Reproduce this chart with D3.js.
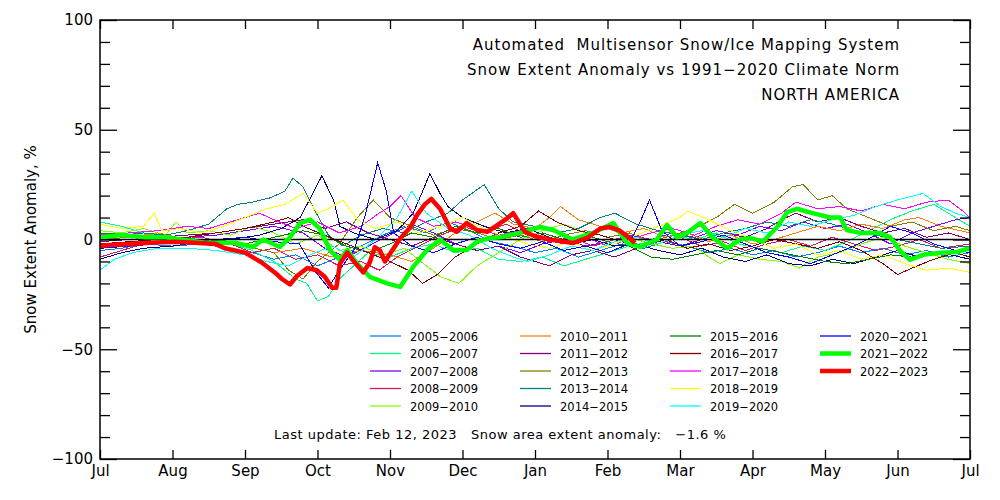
<!DOCTYPE html>
<html>
<head>
<meta charset="utf-8">
<script src="https://cdn.jsdelivr.net/npm/d3@7"></script>
<style>
  body { margin: 0; background: #fff; }
  text { font-family: "DejaVu Sans", sans-serif; fill: #000; }
</style>
</head>
<body>
<div class="snowchart"></div>
<script>
// month labels along x (one per month boundary, Jul..Jul)
const monthLabels = ["Jul","Aug","Sep","Oct","Nov","Dec","Jan","Feb","Mar","Apr","May","Jun","Jul"];
const yLabels = [100, 50, 0, -50, -100];

// seasons shown in the legend
const seasons = ["2005\u22122006","2006\u22122007","2007\u22122008","2008\u22122009","2009\u22122010",
  "2010\u22122011","2011\u22122012","2012\u22122013","2013\u22122014","2014\u22122015",
  "2015\u22122016","2016\u22122017","2017\u22122018","2018\u22122019","2019\u22122020",
  "2020\u22122021","2021\u22122022","2022\u22122023"];
const seasonColors = ["#0080ff","#00ff80","#8000ff","#dc1464","#80ff00",
  "#ff8000","#800080","#808000","#008080","#000080",
  "#008000","#800000","#ff00ff","#ffff00","#00ffff",
  "#0000ff","#00ff00","#ff0000"];

// [months since Jul 1, anomaly %]
const s2005 = [[0,-5],[0.3,-4],[0.6,-2],[1,-3],[1.4,-2],[1.8,-4],[2.1,-6],[2.4,-9],[2.7,-7],[3,-12],[3.3,-8],[3.6,-3],[3.9,2],[4.2,6],[4.5,3],[4.8,8],[5.1,4],[5.4,-1],[5.7,-3],[6,-6],[6.3,-4],[6.6,-8],[6.9,-5],[7.2,-2],[7.5,-4],[7.8,-1],[8.1,-3],[8.4,-6],[8.7,-4],[9,-7],[9.3,-5],[9.6,-8],[9.9,-6],[10.2,-3],[10.5,-6],[10.8,-4],[11.1,-7],[11.4,-5],[11.7,-8],[12,-6]];
const s2006 = [[0,8],[0.3,6],[0.6,3],[1,1],[1.4,0],[1.8,-2],[2.1,-5],[2.4,-10],[2.7,-18],[2.85,-20],[3.0,-28],[3.15,-26],[3.3,-18],[3.5,-12],[3.7,-6],[4,-8],[4.3,-4],[4.6,-2],[4.9,-6],[5.2,-4],[5.5,-9],[5.8,-10],[6.1,-8],[6.4,-12],[6.7,-9],[7,-6],[7.3,-3],[7.6,-1],[7.9,2],[8.2,0],[8.5,3],[8.8,-2],[9.1,-4],[9.4,-6],[9.7,-3],[10,-5],[10.3,-1],[10.6,4],[10.9,9],[11.2,13],[11.5,16],[11.8,10],[12,6]];
const s2007 = [[0,-2],[0.4,-1],[0.8,0],[1.2,1],[1.6,2],[2,4],[2.4,6],[2.8,3],[3.1,-4],[3.4,-8],[3.7,-3],[4,2],[4.3,7],[4.6,3],[4.9,-2],[5.2,-5],[5.5,-3],[5.8,-6],[6.1,-2],[6.4,0],[6.7,-3],[7,-1],[7.3,2],[7.6,0],[7.9,3],[8.2,1],[8.5,4],[8.8,2],[9.1,6],[9.4,4],[9.7,8],[10,5],[10.3,7],[10.6,3],[10.9,-2],[11.2,3],[11.5,6],[11.8,9],[12,10]];
const s2008 = [[0,-8],[0.3,-5],[0.6,-2],[1,0],[1.4,1],[1.8,-2],[2.1,-6],[2.4,-4],[2.7,-9],[3,-7],[3.3,-12],[3.6,-10],[3.85,-14],[4.1,-8],[4.4,-3],[4.7,2],[5,6],[5.3,3],[5.6,7],[5.9,2],[6.2,-1],[6.5,1],[6.8,-3],[7.1,0],[7.4,2],[7.7,-2],[8,1],[8.3,-3],[8.6,-1],[8.9,-5],[9.2,-2],[9.5,0],[9.8,-3],[10.1,1],[10.4,-2],[10.7,-5],[11,-3],[11.3,0],[11.6,-4],[12,-2]];
const s2009 = [[0,4],[0.3,3],[0.6,5],[0.9,2],[1.05,8],[1.2,3],[1.5,4],[1.8,2],[2.1,6],[2.4,3],[2.7,-2],[3,2],[3.3,-5],[3.6,-3],[3.9,-7],[4.2,-4],[4.5,-12],[4.7,-17],[4.95,-20],[5.2,-12],[5.5,-6],[5.8,0],[6.1,4],[6.4,7],[6.7,3],[7,5],[7.3,1],[7.6,-2],[7.9,-4],[8.2,-3],[8.4,-8],[8.55,-11],[8.8,-7],[9.1,-9],[9.4,-10],[9.65,-13],[9.9,-8],[10.2,-6],[10.5,-2],[10.8,1],[11.1,-3],[11.4,-6],[11.7,-9],[12,-11]];
const s2010 = [[0,2],[0.4,1],[0.8,3],[1.2,0],[1.6,-1],[2,-3],[2.4,-6],[2.8,-4],[3.2,-8],[3.6,-5],[4,-7],[4.3,-10],[4.6,-4],[4.9,3],[5.2,8],[5.45,12],[5.7,7],[6,5],[6.2,10],[6.35,15],[6.6,9],[6.9,6],[7.2,3],[7.5,5],[7.8,1],[8.1,3],[8.4,-1],[8.7,2],[9,-2],[9.3,0],[9.6,3],[9.9,6],[10.2,4],[10.5,7],[10.8,5],[11.1,9],[11.3,10],[11.6,6],[12,3]];
const s2011 = [[0,-1],[0.4,0],[0.8,1],[1.2,2],[1.6,3],[2,5],[2.4,7],[2.8,9],[3.1,5],[3.4,8],[3.7,3],[4,0],[4.3,-3],[4.6,1],[4.9,-2],[5.2,-5],[5.5,-3],[5.8,-8],[6,-10],[6.2,-12],[6.5,-7],[6.8,-5],[7.1,-8],[7.4,-4],[7.7,-1],[8,-3],[8.3,0],[8.6,3],[8.9,1],[9.2,5],[9.4,9],[9.6,12],[9.9,8],[10.2,10],[10.5,6],[10.8,3],[11.1,5],[11.4,1],[11.7,3],[12,0]];
const s2012 = [[0,0],[0.4,1],[0.8,2],[1.2,0],[1.6,-1],[2,-3],[2.4,-6],[2.6,-14],[2.8,-18],[3,-10],[3.3,-2],[3.55,10],[3.77,18],[4,10],[4.3,6],[4.6,2],[4.9,5],[5.2,3],[5.5,0],[5.8,2],[6.1,-1],[6.4,2],[6.7,4],[7,1],[7.3,3],[7.6,-1],[7.9,2],[8.2,5],[8.5,10],[8.75,16],[9,12],[9.3,17],[9.55,24],[9.7,25],[9.9,18],[10.1,20],[10.3,14],[10.6,10],[10.9,6],[11.2,8],[11.5,4],[11.8,6],[12,4]];
const s2013 = [[0,3],[0.3,2],[0.6,3],[0.9,2],[1.2,4],[1.5,7],[1.75,14],[1.9,16],[2.1,17],[2.35,19],[2.55,22],[2.66,28],[2.8,24],[2.95,14],[3.15,2],[3.35,-3],[3.6,2],[3.9,5],[4.2,3],[4.5,8],[4.8,12],[5.0,18],[5.3,25],[5.5,14],[5.7,8],[6,6],[6.3,3],[6.6,5],[6.9,10],[7.1,12],[7.4,7],[7.7,4],[8,2],[8.3,0],[8.6,3],[8.9,5],[9.2,8],[9.5,6],[9.8,9],[10.1,7],[10.4,4],[10.7,2],[11,0],[11.3,-2],[11.6,-4],[12,-3]];
const s2014 = [[0,-9],[0.3,-6],[0.6,-4],[1,-3],[1.4,-1],[1.8,0],[2.2,2],[2.5,5],[2.76,10],[2.92,20],[3.06,29],[3.22,18],[3.31,6],[3.5,3],[3.8,0],[4.1,4],[4.32,12],[4.45,22],[4.55,30],[4.69,21],[4.8,15],[5,10],[5.3,6],[5.6,3],[5.9,5],[6.2,1],[6.5,-2],[6.8,0],[7.1,-3],[7.4,-2],[7.7,-5],[8,-7],[8.3,-4],[8.6,-8],[8.9,-10],[9.2,-7],[9.5,-11],[9.8,-12],[10.1,-9],[10.4,-11],[10.7,-8],[11,-5],[11.3,-8],[11.6,-6],[12,-9]];
const s2015 = [[0,3],[0.4,2],[0.8,1],[1.2,-1],[1.6,0],[2,-2],[2.4,1],[2.8,4],[3.1,2],[3.4,-3],[3.7,-6],[4,-2],[4.3,3],[4.6,1],[4.9,6],[5.2,3],[5.5,5],[5.8,1],[6.1,3],[6.4,0],[6.7,2],[7,-1],[7.3,-3],[7.6,-8],[7.9,-9],[8.2,-7],[8.5,-5],[8.8,-7],[9.1,-4],[9.4,-6],[9.7,-8],[10,-10],[10.3,-11],[10.6,-9],[10.9,-7],[11.2,-8],[11.5,-6],[11.8,-5],[12,-4]];
const s2016 = [[0,-2],[0.4,-1],[0.8,0],[1.2,1],[1.6,3],[2,5],[2.4,8],[2.6,10],[2.8,6],[3.1,2],[3.4,-2],[3.7,-6],[4,-10],[4.25,-14],[4.45,-20],[4.65,-16],[4.9,-8],[5.2,-2],[5.5,3],[5.8,6],[6.05,13],[6.3,8],[6.6,4],[6.9,2],[7.2,-1],[7.5,-3],[7.8,0],[8.1,-4],[8.4,-2],[8.7,-5],[9,-3],[9.3,0],[9.6,-2],[9.9,-4],[10.2,-1],[10.5,-5],[10.8,-11],[11,-16],[11.2,-13],[11.5,-9],[11.8,-6],[12,-8]];
const s2017 = [[0,2],[0.4,3],[0.8,4],[1.2,6],[1.5,5],[1.8,8],[2.0,10],[2.2,12],[2.4,9],[2.7,5],[3,8],[3.3,3],[3.6,6],[3.85,12],[4.0,15],[4.15,20],[4.35,10],[4.6,6],[4.9,8],[5.2,5],[5.5,2],[5.8,4],[6.1,0],[6.4,-2],[6.7,1],[7,-3],[7.3,0],[7.6,3],[7.9,5],[8.2,2],[8.5,6],[8.8,9],[9.1,7],[9.4,12],[9.6,17],[9.9,14],[10.2,15],[10.5,13],[10.8,16],[11.1,14],[11.4,17],[11.7,18],[11.9,13],[12,10]];
const s2018 = [[0,7],[0.3,5],[0.6,6],[0.75,12],[0.85,4],[1.1,5],[1.4,3],[1.7,6],[2.0,10],[2.3,14],[2.55,16],[2.8,21],[3.0,12],[3.15,14],[3.35,18],[3.55,9],[3.8,5],[4.1,8],[4.4,3],[4.7,6],[5.0,10],[5.3,5],[5.6,1],[5.9,-2],[6.2,-4],[6.5,-1],[6.8,-5],[7.1,-2],[7.4,2],[7.7,6],[8.0,10],[8.1,13],[8.4,9],[8.7,4],[9.0,0],[9.3,-4],[9.6,-2],[9.9,-7],[10.2,-5],[10.5,-9],[10.8,-7],[11.1,-11],[11.4,-14],[11.7,-13],[12,-15]];
const s2019 = [[0,-14],[0.2,-9],[0.45,-6],[0.8,-4],[1.2,-4],[1.6,-5],[2.0,-7],[2.3,-10],[2.6,-12],[2.9,-7],[3.2,-3],[3.5,-8],[3.8,0],[4.1,10],[4.3,22],[4.5,12],[4.8,5],[5.1,2],[5.4,-4],[5.7,-8],[5.9,-10],[6.2,-7],[6.5,-3],[6.8,-5],[7.1,-1],[7.4,1],[7.7,-2],[8,2],[8.3,4],[8.6,1],[8.9,5],[9.2,3],[9.5,8],[9.8,6],[10.1,9],[10.4,11],[10.7,15],[11.0,18],[11.35,21],[11.6,15],[11.8,12],[12,10]];
const s2020 = [[0,-4],[0.4,-3],[0.8,-2],[1.2,-1],[1.6,0],[2,1],[2.4,-1],[2.75,-2],[2.98,-15],[3.15,-22],[3.3,-14],[3.5,-5],[3.65,10],[3.83,35],[3.95,22],[4.05,3],[4.3,-3],[4.6,-6],[4.9,-2],[5.2,1],[5.5,-2],[5.8,-4],[6.1,-1],[6.4,-5],[6.7,-3],[7.0,-6],[7.3,-2],[7.45,8],[7.58,18],[7.75,4],[8.0,-3],[8.3,-1],[8.6,2],[8.9,-2],[9.2,-6],[9.5,-8],[9.8,-11],[10.1,-7],[10.4,-3],[10.7,2],[10.9,6],[11.2,3],[11.5,-2],[11.8,-5],[12,-6]];
const s2021 = [[0,1],[0.3,2],[0.62,1],[0.9,1],[1.45,-1.5],[1.86,-1.5],[2.11,-3.4],[2.25,0],[2.48,-3.4],[2.62,1],[2.76,7.5],[2.9,9],[3.03,5],[3.17,-4.8],[3.31,-9.3],[3.41,-4.8],[3.54,-10.7],[3.72,-17],[3.96,-20],[4.14,-21.6],[4.32,-12.5],[4.51,-4.8],[4.69,0],[4.87,-4.8],[5.06,-4.8],[5.2,-1],[5.38,0.7],[5.52,1],[5.79,3],[6.07,5.7],[6.25,4.3],[6.52,0],[6.8,3],[7.08,7.5],[7.27,-1.6],[7.45,-3.4],[7.68,0],[7.82,6.6],[7.96,1],[8.1,3],[8.28,7.5],[8.46,0.7],[8.65,-4],[8.83,0],[8.97,0.7],[9.14,-1],[9.34,5.7],[9.48,12.5],[9.61,14],[9.83,12],[10.07,10],[10.21,10],[10.3,4.3],[10.48,3],[10.76,3],[10.9,1],[11.03,-4.8],[11.17,-9.3],[11.35,-7],[11.59,-6],[11.82,-5.7],[12,-4]];
const s2022 = [[0,-3],[0.14,-2.5],[0.41,-2],[0.69,-1.5],[1.03,-1],[1.31,-1.5],[1.59,-2],[1.72,-4],[2.0,-6],[2.23,-10.5],[2.41,-15],[2.51,-18],[2.62,-20.5],[2.72,-16.5],[2.86,-13],[2.99,-14],[3.1,-17],[3.2,-22],[3.26,-22],[3.31,-11],[3.41,-6],[3.49,-9.5],[3.63,-15],[3.72,-10.5],[3.79,-3.5],[3.86,-5],[3.93,-10],[4.03,-5],[4.14,0.5],[4.28,5.5],[4.37,11],[4.48,16],[4.57,18.5],[4.69,14],[4.83,5],[4.92,3.5],[5.06,7.5],[5.2,4.3],[5.34,3.5],[5.48,6.6],[5.59,9],[5.7,12],[5.86,3.5],[6.0,1.5],[6.21,0],[6.52,-1.6],[6.72,0.7],[6.9,5],[7.03,5.7],[7.17,4],[7.31,0.5],[7.38,-1.6]];

const seriesData = [s2005,s2006,s2007,s2008,s2009,s2010,s2011,s2012,s2013,s2014,
  s2015,s2016,s2017,s2018,s2019,s2020,s2021,s2022];

const titleLines = ["Automated  Multisensor Snow/Ice Mapping System",
  "Snow Extent Anomaly vs 1991\u22122020 Climate Norm", "NORTH AMERICA"];
const footer = "Last update: Feb 12, 2023   Snow area extent anomaly:   \u22121.6 %";

// layout
const W = 1000, H = 500;
const pLeft = 100, pRight = 970, pTop = 20, pBottom = 459;

const svg = d3.select(".snowchart").append("svg")
  .attr("width", W).attr("height", H)
  .style("background", "#fff");

const x = d3.scaleLinear().domain([0, 12]).range([pLeft, pRight]);
const y = d3.scaleLinear().domain([-100, 100]).range([pBottom, pTop]);

svg.append("defs").append("clipPath").attr("id", "plotclip")
  .append("rect").attr("x", pLeft).attr("y", pTop)
  .attr("width", pRight - pLeft).attr("height", pBottom - pTop);

const line = d3.line().x(d => x(d[0])).y(d => y(d[1]));

const plot = svg.append("g").attr("clip-path", "url(#plotclip)");

// thin seasons first
plot.selectAll(".thin").data(seriesData.slice(0, 16)).enter()
  .append("path").attr("class", "thin")
  .attr("fill", "none")
  .attr("stroke", (d, i) => seasonColors[i])
  .attr("stroke-width", 1)
  .attr("shape-rendering", "crispEdges")
  .attr("d", line);

// zero line
plot.append("line")
  .attr("x1", pLeft).attr("x2", pRight)
  .attr("y1", y(0)).attr("y2", y(0))
  .attr("stroke", "#000").attr("stroke-width", 1.5);

// thick recent seasons
plot.selectAll(".thick").data(seriesData.slice(16)).enter()
  .append("path").attr("class", "thick")
  .attr("fill", "none")
  .attr("stroke", (d, i) => seasonColors[16 + i])
  .attr("stroke-width", 4.5)
  .attr("stroke-linejoin", "round")
  .attr("d", line);

// axes
const fmt = v => v < 0 ? "\u2212" + Math.abs(v) : String(v);
const ticks10 = d3.range(-100, 101, 10).filter(v => v % 50 !== 0);

function styleAxis(g) {
  g.selectAll(".domain").remove();
  g.selectAll("line").attr("stroke", "#000").attr("stroke-width", 1.3);
  g.selectAll("text").style("font-family", '"DejaVu Sans", sans-serif')
    .style("font-size", "15px").attr("fill", "#000");
}

svg.append("g").attr("transform", `translate(0,${pBottom})`)
  .call(d3.axisBottom(x).tickValues(d3.range(0, 13)).tickSize(-9).tickPadding(6)
    .tickFormat(i => monthLabels[i]))
  .call(styleAxis);
svg.append("g").attr("transform", `translate(0,${pTop})`)
  .call(d3.axisTop(x).tickValues(d3.range(0, 13)).tickSize(-9).tickFormat(""))
  .call(styleAxis);

svg.append("g").attr("transform", `translate(${pLeft},0)`)
  .call(d3.axisLeft(y).tickValues(yLabels).tickSize(-17).tickPadding(7).tickFormat(fmt))
  .call(styleAxis);
svg.append("g").attr("transform", `translate(${pLeft},0)`)
  .call(d3.axisLeft(y).tickValues(ticks10).tickSize(-10).tickFormat(""))
  .call(styleAxis);
svg.append("g").attr("transform", `translate(${pRight},0)`)
  .call(d3.axisRight(y).tickValues(yLabels).tickSize(-17).tickFormat(""))
  .call(styleAxis);
svg.append("g").attr("transform", `translate(${pRight},0)`)
  .call(d3.axisRight(y).tickValues(ticks10).tickSize(-10).tickFormat(""))
  .call(styleAxis);

svg.append("rect")
  .attr("x", pLeft).attr("y", pTop)
  .attr("width", pRight - pLeft).attr("height", pBottom - pTop)
  .attr("fill", "none").attr("stroke", "#000").attr("stroke-width", 1.5);

// axis title
svg.append("text")
  .attr("transform", `translate(36,${y(0)}) rotate(-90)`)
  .attr("text-anchor", "middle")
  .style("font-size", "15px")
  .text("Snow Extent Anomaly, %");

// title block
svg.selectAll(".title").data(titleLines).enter()
  .append("text").attr("class", "title")
  .attr("x", 900).attr("y", (d, i) => 50 + i * 25)
  .attr("text-anchor", "end")
  .style("font-size", "15px")
  .style("letter-spacing", "1px")
  .style("white-space", "pre")
  .attr("xml:space", "preserve")
  .text(d => d);

// legend: 4 columns of 5 rows
const legX = [370, 520, 670, 820];
const leg = svg.selectAll(".leg").data(seasons).enter()
  .append("g").attr("class", "leg")
  .attr("transform", (d, i) => `translate(${legX[Math.floor(i / 5)]},${336 + (i % 5) * 17.5})`);
leg.append("line")
  .attr("x1", 0).attr("x2", 31).attr("y1", 0).attr("y2", 0)
  .attr("stroke", (d, i) => seasonColors[i])
  .attr("stroke-width", (d, i) => i >= 16 ? 4.5 : 1.3);
leg.append("text")
  .attr("x", 40).attr("y", 4.5)
  .style("font-size", "11.5px")
  .text(d => d);

// footer
svg.append("text")
  .attr("x", 274).attr("y", 439)
  .style("font-size", "13px")
  .style("letter-spacing", "0.5px")
  .style("white-space", "pre")
  .attr("xml:space", "preserve")
  .text(footer);
</script>
</body>
</html>
